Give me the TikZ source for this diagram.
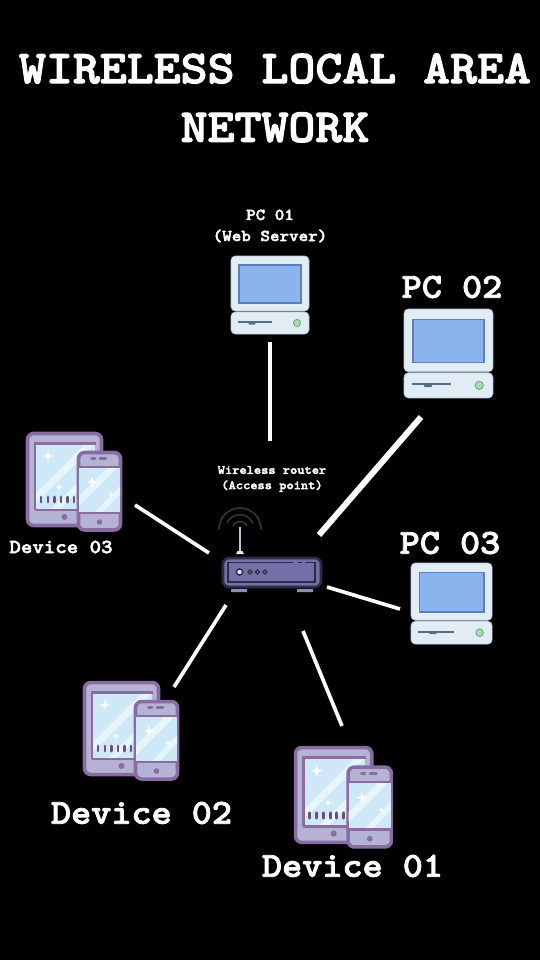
\documentclass[tikz,border=0pt]{standalone}
\usepackage{fontspec}
\newfontfamily\lblfont{lmmonolt10-bold}[Extension=.otf,FakeBold=2.4,FakeStretch=1.09]
\definecolor{shell}{HTML}{E1ECF4}
\definecolor{shellline}{HTML}{B9CBD8}
\definecolor{screenblue}{HTML}{8AB4EE}
\definecolor{screenline}{HTML}{5F7FB8}
\definecolor{slotgrey}{HTML}{5A6C80}
\definecolor{ledgreen}{HTML}{A9DDB0}
\definecolor{ledline}{HTML}{6FA58A}
\definecolor{routerbody}{HTML}{7270A6}
\definecolor{routerline}{HTML}{2C2B48}
\definecolor{routerfoot}{HTML}{8C8CB4}
\definecolor{wavegrey}{HTML}{32323A}
\definecolor{casefill}{HTML}{B4B3D4}
\definecolor{caseline}{HTML}{8A6CA4}
\definecolor{glass}{HTML}{CFE8F8}
\definecolor{glassband}{HTML}{E6F4FC}
\newcommand{\lbl}[1]{\lblfont\fontsize{#1}{#1}\selectfont}
\tikzset{
 txt/.style={text=white,align=center,inner sep=0pt},
 huge label/.style={txt,font=\lbl{26.8},execute at begin node=\setlength{\baselineskip}{33.4pt}},
 big label/.style={txt,font=\lbl{20}},
 small label/.style={txt,font=\lbl{11.4}},
 web label/.style={txt,font=\lbl{9.5},execute at begin node=\setlength{\baselineskip}{12pt}},
 tiny label/.style={txt,font=\lbl{7.2},execute at begin node=\setlength{\baselineskip}{8.7pt}},
 link/.style={draw=white,line width=2.1pt},
 pics/computer/.style={code={
  \draw[shellline,fill=shell,line width=.4pt,rounded corners=2.5pt] (0,0) rectangle (78,55);
  \draw[shellline,fill=shell,line width=.4pt,rounded corners=2.5pt] (0,56) rectangle (78,78);
  \draw[screenline,fill=screenblue,line width=.8pt] (8,9) rectangle (70,47);
  \draw[slotgrey,line width=1pt] (7,66)--(41,66);
  \fill[slotgrey] (17,66)--(25,66)--(24,68.5)--(18,68.5)--cycle;
  \draw[ledline,fill=ledgreen,line width=.5pt] (66,67) circle (3.6);
 }},
 pics/sparkle/.style={code={
  \fill[white] (0,-6) .. controls (1,-1) .. (6,0) .. controls (1,1) .. (0,6)
   .. controls (-1,1) .. (-6,0) .. controls (-1,-1) .. (0,-6)--cycle;
 }},
 pics/devices/.style={code={
  % tablet
  \draw[caseline,fill=casefill,line width=2pt,rounded corners=3.5pt] (1.5,1.5) rectangle (75.5,93.5);
  \fill[glass] (9,12) rectangle (69,78);
  \begin{scope}
   \clip (9,12) rectangle (69,78);
   \fill[glassband] (9,62)--(59,12)--(69,12)--(9,72)--cycle;
   \fill[glassband] (24,78)--(69,33)--(69,42)--(33,78)--cycle;
  \end{scope}
  \draw[caseline,line width=1.6pt] (9,78)--(9,11.5)--(70,11.5);
  \draw[caseline,line width=1.6pt] (9,78)--(52,78);
  \foreach \px in {15,22,28.5,35,41.5,48}
   \draw[caseline!75!black,line width=1.7pt,line cap=round] (\px,65)--(\px,70);
  \pic at (22,24) {sparkle};
  \pic[scale=.5] at (54,31) {sparkle};
  \pic[scale=.6] at (33,55) {sparkle};
  \fill[caseline] (38.5,85) circle (3);
  % phone
  \draw[caseline,fill=casefill,line width=2pt,rounded corners=3.5pt] (52.5,20.5) rectangle (94.5,98);
  \fill[glass] (53,35) rectangle (94,81);
  \begin{scope}
   \clip (53,35) rectangle (94,81);
   \fill[glassband] (53,64)--(82,35)--(92,35)--(53,74)--cycle;
   \fill[glassband] (68,81)--(94,54)--(94,62)--(76,81)--cycle;
  \end{scope}
  \draw[caseline,line width=1.6pt] (53,35)--(94,35) (53,81)--(94,81);
  \draw[caseline,line width=1.5pt,line cap=round] (65.5,26.5)--(69,26.5) (74,26.5)--(80,26.5);
  \pic at (66,50) {sparkle};
  \pic[scale=.5] at (85,62) {sparkle};
  \fill[caseline] (73.5,90) circle (2.8);
 }},
}
\begin{document}
\begin{tikzpicture}[x=.02cm,y=-.02cm]
 \fill[black] (0,0) rectangle (540,960);
 \useasboundingbox (0,0) rectangle (540,960);

 \node[huge label] (title) at (275,98) {WIRELESS LOCAL AREA\\NETWORK};

 \pic at (231,256) {computer};
 \node[web label] (pcA) at (270,226) {PC 01\\(Web Server)};
 \pic[scale=1.14] at (404,309) {computer};
 \node[big label] (pcB) at (452,287) {PC 02};
 \pic[scale=1.04] at (411,563) {computer};
 \node[big label] (pcC) at (450,543) {PC 03};

 \pic at (26,432) {devices};
 \node[small label] (devC) at (61,547) {Device 03};
 \pic at (83,681) {devices};
 \node[big label] (devB) at (141.5,813) {Device 02};
 \pic[scale=1.03] at (294,746) {devices};
 \node[big label] (devA) at (352.5,866) {Device 01};

 % router
 \node[tiny label] (router) at (272,479) {Wireless router\\(Access point)};
 \draw[wavegrey,line width=1pt] (219,529) arc (180:360:21) (227,523) arc (205:335:14.3) (233,526) arc (205:335:7.7);
 \draw[shellline,line width=1pt] (240,527)--(240,552);
 \fill[shell] (236,554) -- (237.5,551)--(242.5,551)--(244,554)--cycle;
 \fill[routerfoot] (231,589) rectangle (247,592) (297,589) rectangle (313,592);
 \draw[routerline,fill=routerbody,line width=1.5pt,rounded corners=3.5pt] (223,558) rectangle (321,587);
 \draw[routerline,line width=1pt] (293,562.5)--(228,562.5)--(228,582)--(315,582)--(315,562.5)--(305,562.5) (298,562.5)--(302,562.5);
 \draw[routerline,fill=shell,line width=.8pt] (239.5,572) circle (3.1);
 \foreach \px in {250,257.5,265}
  \draw[routerline,fill=routerfoot,line width=.7pt] (\px,572) circle (1.9);

 % links
 \coordinate (hubA) at (270,441);
 \coordinate (hubB) at (319,535);
 \coordinate (hubC) at (327,587);
 \coordinate (hubD) at (303,631);
 \coordinate (hubE) at (226,605);
 \coordinate (hubF) at (209,553);
 \coordinate (endA) at (270,342);
 \coordinate (endB) at (421,417);
 \coordinate (endC) at (400,609);
 \coordinate (endD) at (342,726);
 \coordinate (endE) at (174,687);
 \coordinate (endF) at (135,505);
 \draw[link] (hubA)--(endA);
 \draw[link,line width=3.4pt] (hubB)--(endB);
 \draw[link] (hubC)--(endC);
 \draw[link] (hubD)--(endD);
 \draw[link] (hubE)--(endE);
 \draw[link] (hubF)--(endF);
\end{tikzpicture}
\end{document}
